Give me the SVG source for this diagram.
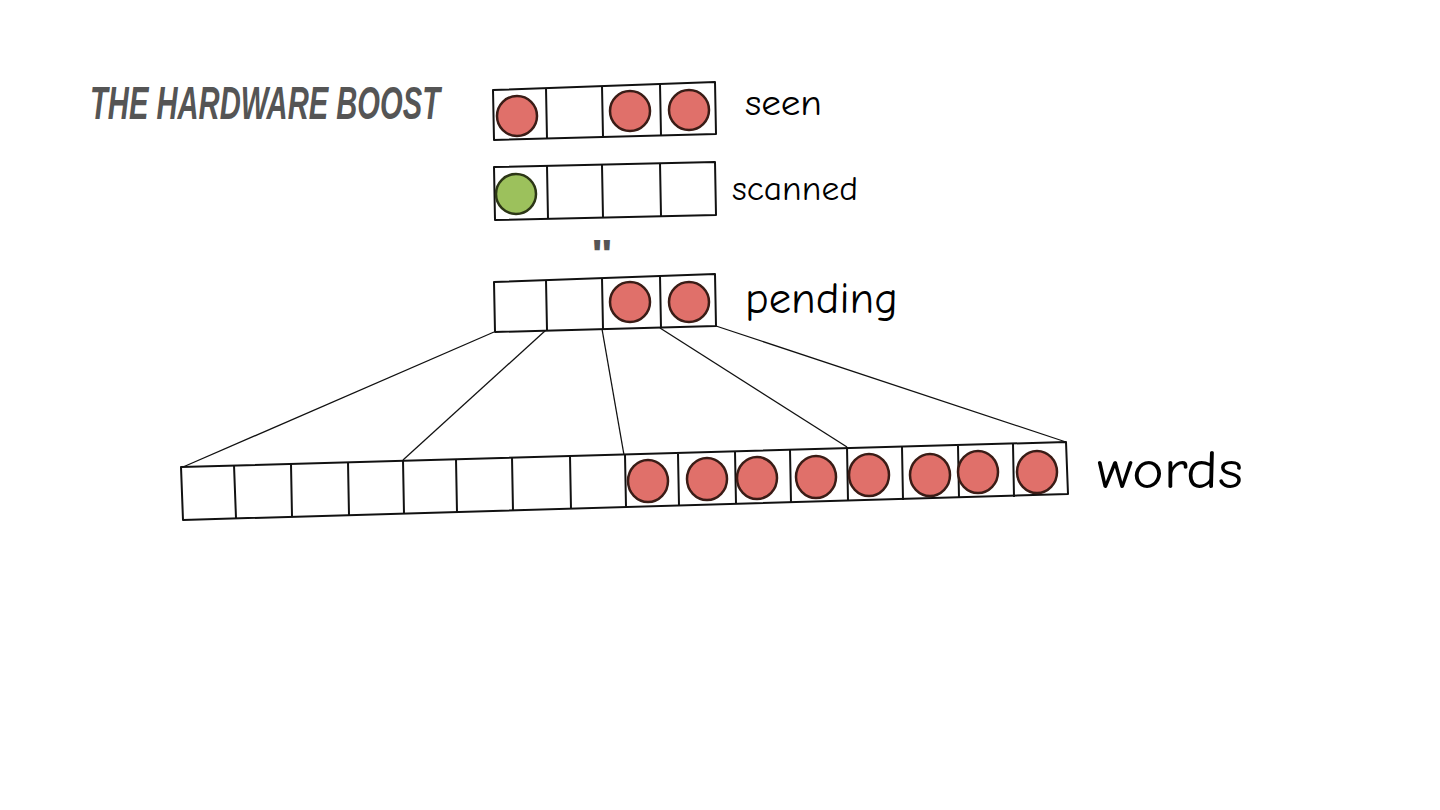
<svg xmlns="http://www.w3.org/2000/svg" width="1440" height="810" viewBox="0 0 1440 810">
<style>
.box{fill:#fff;stroke:#111;stroke-width:2;stroke-linejoin:round}
.div{stroke:#111;stroke-width:2;fill:none}
.red{fill:#e0706a;stroke:#3a1c16;stroke-width:2.5}
.green{fill:#9cc15c;stroke:#2c3616;stroke-width:2.5}
.lbl{font-family:"Comic Neue","Lato","Noto Sans",sans-serif;fill:#000}
.conn{stroke:#111;stroke-width:1.3;fill:none}
.title{font-family:"Liberation Sans",sans-serif;font-weight:bold;font-style:italic;fill:#555}
</style>
<rect width="1440" height="810" fill="#fff"/>
<text class="title" x="90" y="119" font-size="46" textLength="350" lengthAdjust="spacingAndGlyphs">THE HARDWARE BOOST</text>
<g id="connectors">
<path class="conn" d="M494 332 L183 467"/>
<path class="conn" d="M546 330 L403 460"/>
<path class="conn" d="M602 329 L624 455"/>
<path class="conn" d="M660 328 L847 447"/>
<path class="conn" d="M716 326 L1066 442"/>
</g>
<g id="seen">
<polygon class="box" points="493,90 715,82 716,134 494,140"/>
<path class="div" d="M546 88 L547 139 M602 86 L603 137 M660 84 L661 136"/>
<circle class="red" cx="517" cy="116" r="20"/>
<circle class="red" cx="630" cy="111" r="20"/>
<circle class="red" cx="689" cy="110" r="20"/>
<text class="lbl" x="745" y="115" font-size="36" textLength="77" lengthAdjust="spacingAndGlyphs">seen</text>
</g>
<g id="scanned">
<polygon class="box" points="494,167 715,162 716,215 495,220"/>
<path class="div" d="M547 166 L548 219 M602 165 L603 218 M660 163 L661 216"/>
<circle class="green" cx="516" cy="194" r="20"/>
<text class="lbl" x="732" y="200" font-size="34" textLength="126" lengthAdjust="spacingAndGlyphs">scanned</text>
</g>
<g id="ellipsis">
<text x="591" y="268" font-family="Liberation Sans" font-weight="bold" font-size="40" fill="#555" textLength="22" lengthAdjust="spacingAndGlyphs">"</text>
</g>
<g id="pending">
<polygon class="box" points="494,282 715,274 716,326 495,332"/>
<path class="div" d="M546 280 L547 330 M602 278 L603 329 M660 276 L661 328"/>
<circle class="red" cx="630" cy="302" r="20"/>
<circle class="red" cx="689" cy="302" r="20"/>
<text class="lbl" x="745" y="313" font-size="45" textLength="153" lengthAdjust="spacingAndGlyphs">pending</text>
</g>
<g id="words">
<polygon class="box" points="181,467 1066,442 1068,494 183,520"/>
<path class="div" d="M234 465 L236 518 M291 464 L292 516 M348 462 L349 515 M403 460 L404 514 M456 459 L457 512 M512 457 L513 511 M570 456 L571 509 M625 455 L626 507 M678 454 L679 506 M735 452 L736 504 M790 450 L791 503 M847 447 L848 501 M902 447 L903 500 M958 446 L959 498 M1013 444 L1014 497"/>
<ellipse class="red" cx="648" cy="481" rx="20" ry="21"/>
<ellipse class="red" cx="707" cy="479" rx="20" ry="21"/>
<ellipse class="red" cx="757" cy="478" rx="20" ry="21"/>
<ellipse class="red" cx="816" cy="477" rx="20" ry="21"/>
<ellipse class="red" cx="869" cy="475" rx="20" ry="21"/>
<ellipse class="red" cx="930" cy="475" rx="20" ry="21"/>
<ellipse class="red" cx="978" cy="472" rx="20" ry="21"/>
<ellipse class="red" cx="1037" cy="472" rx="20" ry="21"/>
<text class="lbl" x="1097" y="488" font-size="54" textLength="146" lengthAdjust="spacingAndGlyphs">words</text>
</g>
</svg>
